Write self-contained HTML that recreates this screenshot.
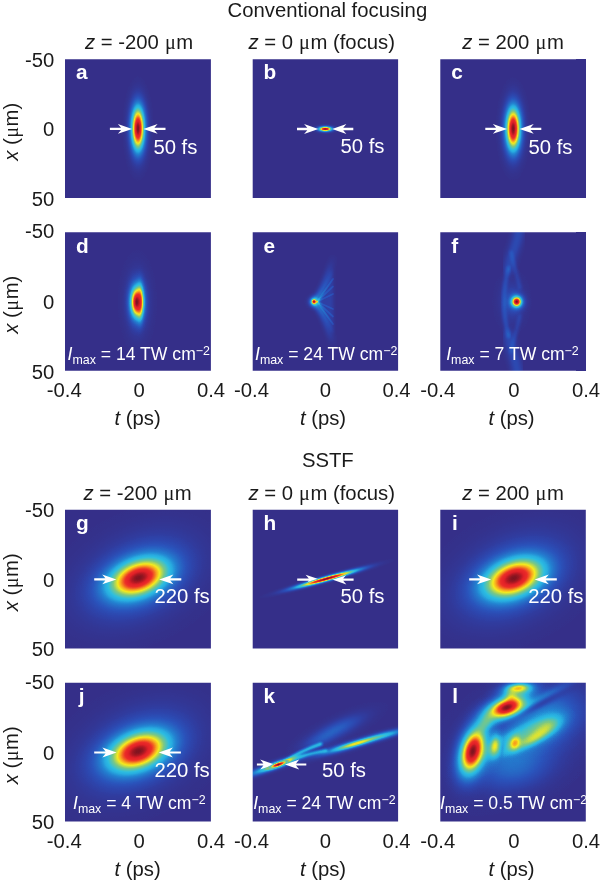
<!DOCTYPE html>
<html lang="en"><head><meta charset="utf-8"><title>Conventional focusing vs SSTF</title>
<style>html,body{margin:0;padding:0;background:#fff}svg{display:block}text{font-family:"Liberation Sans",sans-serif;font-size:20.3px;fill:#1a1a1a}.w{fill:#fff}.b{font-weight:bold;font-size:20.8px}.i{font-style:italic}.m{font-family:"Liberation Serif","DejaVu Serif",serif}.s{font-size:12.4px}.im{font-size:17.6px}</style></head><body>
<svg width="600" height="883" viewBox="0 0 600 883">
<defs><radialGradient id="g" cx="0.5" cy="0.5" r="0.5"><stop offset="0.0000" stop-color="#fff" stop-opacity="1.0000"/><stop offset="0.0357" stop-color="#fff" stop-opacity="0.9922"/><stop offset="0.0714" stop-color="#fff" stop-opacity="0.9692"/><stop offset="0.1071" stop-color="#fff" stop-opacity="0.9321"/><stop offset="0.1429" stop-color="#fff" stop-opacity="0.8825"/><stop offset="0.1786" stop-color="#fff" stop-opacity="0.8226"/><stop offset="0.2143" stop-color="#fff" stop-opacity="0.7548"/><stop offset="0.2500" stop-color="#fff" stop-opacity="0.6819"/><stop offset="0.2857" stop-color="#fff" stop-opacity="0.6065"/><stop offset="0.3214" stop-color="#fff" stop-opacity="0.5311"/><stop offset="0.3571" stop-color="#fff" stop-opacity="0.4578"/><stop offset="0.3929" stop-color="#fff" stop-opacity="0.3886"/><stop offset="0.4286" stop-color="#fff" stop-opacity="0.3247"/><stop offset="0.4643" stop-color="#fff" stop-opacity="0.2671"/><stop offset="0.5000" stop-color="#fff" stop-opacity="0.2163"/><stop offset="0.5357" stop-color="#fff" stop-opacity="0.1724"/><stop offset="0.5714" stop-color="#fff" stop-opacity="0.1353"/><stop offset="0.6071" stop-color="#fff" stop-opacity="0.1046"/><stop offset="0.6429" stop-color="#fff" stop-opacity="0.0796"/><stop offset="0.6786" stop-color="#fff" stop-opacity="0.0596"/><stop offset="0.7143" stop-color="#fff" stop-opacity="0.0439"/><stop offset="0.7500" stop-color="#fff" stop-opacity="0.0319"/><stop offset="0.7857" stop-color="#fff" stop-opacity="0.0228"/><stop offset="0.8214" stop-color="#fff" stop-opacity="0.0160"/><stop offset="0.8571" stop-color="#fff" stop-opacity="0.0111"/><stop offset="0.8929" stop-color="#fff" stop-opacity="0.0076"/><stop offset="0.9286" stop-color="#fff" stop-opacity="0.0051"/><stop offset="0.9643" stop-color="#fff" stop-opacity="0.0034"/><stop offset="1.0000" stop-color="#fff" stop-opacity="0.0000"/></radialGradient>
<radialGradient id="g4" cx="0.5" cy="0.5" r="0.5"><stop offset="0.0000" stop-color="#fff" stop-opacity="1.0000"/><stop offset="0.0357" stop-color="#fff" stop-opacity="1.0000"/><stop offset="0.0714" stop-color="#fff" stop-opacity="0.9998"/><stop offset="0.1071" stop-color="#fff" stop-opacity="0.9991"/><stop offset="0.1429" stop-color="#fff" stop-opacity="0.9973"/><stop offset="0.1786" stop-color="#fff" stop-opacity="0.9934"/><stop offset="0.2143" stop-color="#fff" stop-opacity="0.9863"/><stop offset="0.2500" stop-color="#fff" stop-opacity="0.9747"/><stop offset="0.2857" stop-color="#fff" stop-opacity="0.9573"/><stop offset="0.3214" stop-color="#fff" stop-opacity="0.9324"/><stop offset="0.3571" stop-color="#fff" stop-opacity="0.8989"/><stop offset="0.3929" stop-color="#fff" stop-opacity="0.8555"/><stop offset="0.4286" stop-color="#fff" stop-opacity="0.8016"/><stop offset="0.4643" stop-color="#fff" stop-opacity="0.7375"/><stop offset="0.5000" stop-color="#fff" stop-opacity="0.6639"/><stop offset="0.5357" stop-color="#fff" stop-opacity="0.5829"/><stop offset="0.5714" stop-color="#fff" stop-opacity="0.4972"/><stop offset="0.6071" stop-color="#fff" stop-opacity="0.4104"/><stop offset="0.6429" stop-color="#fff" stop-opacity="0.3265"/><stop offset="0.6786" stop-color="#fff" stop-opacity="0.2492"/><stop offset="0.7143" stop-color="#fff" stop-opacity="0.1816"/><stop offset="0.7500" stop-color="#fff" stop-opacity="0.1257"/><stop offset="0.7857" stop-color="#fff" stop-opacity="0.0823"/><stop offset="0.8214" stop-color="#fff" stop-opacity="0.0506"/><stop offset="0.8571" stop-color="#fff" stop-opacity="0.0291"/><stop offset="0.8929" stop-color="#fff" stop-opacity="0.0155"/><stop offset="0.9286" stop-color="#fff" stop-opacity="0.0077"/><stop offset="0.9643" stop-color="#fff" stop-opacity="0.0035"/><stop offset="1.0000" stop-color="#fff" stop-opacity="0.0000"/></radialGradient>
<radialGradient id="ov" cx="0.5" cy="0.5" r="0.5"><stop offset="0.0000" stop-color="#7d1420" stop-opacity="1.000"/><stop offset="0.0357" stop-color="#851520" stop-opacity="1.000"/><stop offset="0.0714" stop-color="#9e1722" stop-opacity="1.000"/><stop offset="0.1071" stop-color="#c31c25" stop-opacity="1.000"/><stop offset="0.1429" stop-color="#e42328" stop-opacity="1.000"/><stop offset="0.1786" stop-color="#ec2f28" stop-opacity="1.000"/><stop offset="0.2143" stop-color="#f36f22" stop-opacity="1.000"/><stop offset="0.2500" stop-color="#f7ba1e" stop-opacity="1.000"/><stop offset="0.2857" stop-color="#e3e62d" stop-opacity="1.000"/><stop offset="0.3214" stop-color="#9bd169" stop-opacity="1.000"/><stop offset="0.3571" stop-color="#62c5a2" stop-opacity="1.000"/><stop offset="0.3929" stop-color="#36bfd7" stop-opacity="0.834"/><stop offset="0.4286" stop-color="#29b0e0" stop-opacity="0.579"/><stop offset="0.4643" stop-color="#2593d7" stop-opacity="0.348"/><stop offset="0.5000" stop-color="#247acd" stop-opacity="0.145"/><stop offset="0.5357" stop-color="#2768c5" stop-opacity="0.000"/><stop offset="0.5714" stop-color="#2958be" stop-opacity="0.000"/><stop offset="0.6071" stop-color="#2b4eb5" stop-opacity="0.000"/><stop offset="0.6429" stop-color="#2d46ad" stop-opacity="0.000"/><stop offset="0.6786" stop-color="#2f40a5" stop-opacity="0.000"/><stop offset="0.7143" stop-color="#313c9e" stop-opacity="0.000"/><stop offset="0.7500" stop-color="#323999" stop-opacity="0.000"/><stop offset="0.7857" stop-color="#333695" stop-opacity="0.000"/><stop offset="0.8214" stop-color="#333491" stop-opacity="0.000"/><stop offset="0.8571" stop-color="#34338f" stop-opacity="0.000"/><stop offset="0.8929" stop-color="#34328e" stop-opacity="0.000"/><stop offset="0.9286" stop-color="#34318c" stop-opacity="0.000"/><stop offset="0.9643" stop-color="#35318c" stop-opacity="0.000"/><stop offset="1.0000" stop-color="#35318b" stop-opacity="0.000"/></radialGradient>
<radialGradient id="we" gradientUnits="userSpaceOnUse" cx="314" cy="301.7" r="44"><stop offset="0" stop-color="#fff" stop-opacity="0.30"/><stop offset="0.35" stop-color="#fff" stop-opacity="0.17"/><stop offset="0.75" stop-color="#fff" stop-opacity="0.09"/><stop offset="1" stop-color="#fff" stop-opacity="0.02"/></radialGradient>
<radialGradient id="gk" cx="0.5" cy="0.5" r="0.5"><stop offset="0.0000" stop-color="#000" stop-opacity="1.0000"/><stop offset="0.0357" stop-color="#000" stop-opacity="0.9922"/><stop offset="0.0714" stop-color="#000" stop-opacity="0.9692"/><stop offset="0.1071" stop-color="#000" stop-opacity="0.9321"/><stop offset="0.1429" stop-color="#000" stop-opacity="0.8825"/><stop offset="0.1786" stop-color="#000" stop-opacity="0.8226"/><stop offset="0.2143" stop-color="#000" stop-opacity="0.7548"/><stop offset="0.2500" stop-color="#000" stop-opacity="0.6819"/><stop offset="0.2857" stop-color="#000" stop-opacity="0.6065"/><stop offset="0.3214" stop-color="#000" stop-opacity="0.5311"/><stop offset="0.3571" stop-color="#000" stop-opacity="0.4578"/><stop offset="0.3929" stop-color="#000" stop-opacity="0.3886"/><stop offset="0.4286" stop-color="#000" stop-opacity="0.3247"/><stop offset="0.4643" stop-color="#000" stop-opacity="0.2671"/><stop offset="0.5000" stop-color="#000" stop-opacity="0.2163"/><stop offset="0.5357" stop-color="#000" stop-opacity="0.1724"/><stop offset="0.5714" stop-color="#000" stop-opacity="0.1353"/><stop offset="0.6071" stop-color="#000" stop-opacity="0.1046"/><stop offset="0.6429" stop-color="#000" stop-opacity="0.0796"/><stop offset="0.6786" stop-color="#000" stop-opacity="0.0596"/><stop offset="0.7143" stop-color="#000" stop-opacity="0.0439"/><stop offset="0.7500" stop-color="#000" stop-opacity="0.0319"/><stop offset="0.7857" stop-color="#000" stop-opacity="0.0228"/><stop offset="0.8214" stop-color="#000" stop-opacity="0.0160"/><stop offset="0.8571" stop-color="#000" stop-opacity="0.0111"/><stop offset="0.8929" stop-color="#000" stop-opacity="0.0076"/><stop offset="0.9286" stop-color="#000" stop-opacity="0.0051"/><stop offset="0.9643" stop-color="#000" stop-opacity="0.0034"/><stop offset="1.0000" stop-color="#000" stop-opacity="0.0000"/></radialGradient>
<filter id="jet" filterUnits="userSpaceOnUse" x="0" y="0" width="600" height="883" color-interpolation-filters="sRGB"><feComponentTransfer><feFuncR type="table" tableValues="0.208 0.202 0.196 0.189 0.183 0.178 0.174 0.169 0.165 0.161 0.157 0.154 0.150 0.146 0.142 0.139 0.140 0.144 0.149 0.153 0.158 0.162 0.167 0.172 0.176 0.216 0.255 0.294 0.333 0.373 0.412 0.451 0.490 0.549 0.608 0.667 0.725 0.784 0.843 0.902 0.961 0.963 0.966 0.968 0.971 0.971 0.965 0.959 0.953 0.947 0.941 0.936 0.930 0.924 0.915 0.906 0.897 0.888 0.859 0.802 0.744 0.685 0.620 0.555 0.490"/><feFuncG type="table" tableValues="0.188 0.205 0.221 0.238 0.255 0.273 0.292 0.310 0.329 0.355 0.381 0.406 0.432 0.457 0.483 0.508 0.540 0.575 0.610 0.645 0.677 0.694 0.711 0.728 0.745 0.750 0.755 0.760 0.765 0.770 0.775 0.779 0.784 0.801 0.819 0.836 0.853 0.870 0.887 0.904 0.922 0.868 0.815 0.762 0.709 0.654 0.588 0.522 0.457 0.391 0.332 0.277 0.221 0.174 0.164 0.153 0.142 0.132 0.122 0.113 0.105 0.097 0.091 0.085 0.078"/><feFuncB type="table" tableValues="0.541 0.570 0.598 0.626 0.653 0.677 0.697 0.717 0.737 0.749 0.761 0.772 0.784 0.796 0.808 0.819 0.831 0.844 0.856 0.868 0.879 0.880 0.880 0.881 0.882 0.836 0.789 0.743 0.696 0.650 0.603 0.556 0.510 0.461 0.412 0.363 0.314 0.265 0.216 0.167 0.118 0.118 0.118 0.118 0.118 0.119 0.123 0.127 0.132 0.136 0.141 0.147 0.152 0.157 0.157 0.157 0.157 0.157 0.154 0.148 0.142 0.137 0.133 0.129 0.125"/></feComponentTransfer></filter>
<filter id="b0_6" x="-50%" y="-50%" width="200%" height="200%" color-interpolation-filters="sRGB"><feGaussianBlur stdDeviation="0.6"/></filter>
<filter id="b1" x="-50%" y="-50%" width="200%" height="200%" color-interpolation-filters="sRGB"><feGaussianBlur stdDeviation="1"/></filter>
<filter id="b1_5" x="-50%" y="-50%" width="200%" height="200%" color-interpolation-filters="sRGB"><feGaussianBlur stdDeviation="1.5"/></filter>
<filter id="b2" x="-50%" y="-50%" width="200%" height="200%" color-interpolation-filters="sRGB"><feGaussianBlur stdDeviation="2"/></filter>
<filter id="b3" x="-50%" y="-50%" width="200%" height="200%" color-interpolation-filters="sRGB"><feGaussianBlur stdDeviation="3"/></filter>
<filter id="b4" x="-50%" y="-50%" width="200%" height="200%" color-interpolation-filters="sRGB"><feGaussianBlur stdDeviation="4"/></filter>
<filter id="b6" x="-50%" y="-50%" width="200%" height="200%" color-interpolation-filters="sRGB"><feGaussianBlur stdDeviation="6"/></filter>
<clipPath id="c00"><rect x="65.0" y="59.3" width="145.9" height="138.6"/></clipPath>
<clipPath id="c01"><rect x="252.7" y="59.3" width="145.4" height="138.6"/></clipPath>
<clipPath id="c02"><rect x="440.3" y="59.3" width="145.5" height="138.6"/></clipPath>
<clipPath id="c10"><rect x="65.0" y="232.2" width="145.9" height="138.6"/></clipPath>
<clipPath id="c11"><rect x="252.7" y="232.2" width="145.4" height="138.6"/></clipPath>
<clipPath id="c12"><rect x="440.3" y="232.2" width="145.5" height="138.6"/></clipPath>
<clipPath id="c20"><rect x="65.0" y="509.8" width="145.9" height="138.6"/></clipPath>
<clipPath id="c21"><rect x="252.7" y="509.8" width="145.4" height="138.6"/></clipPath>
<clipPath id="c22"><rect x="440.3" y="509.8" width="145.5" height="138.6"/></clipPath>
<clipPath id="c30"><rect x="65.0" y="682.8" width="145.9" height="138.6"/></clipPath>
<clipPath id="c31"><rect x="252.7" y="682.8" width="145.4" height="138.6"/></clipPath>
<clipPath id="c32"><rect x="440.3" y="682.8" width="145.5" height="138.6"/></clipPath></defs>
<rect width="600" height="883" fill="#fff"/>
<g filter="url(#jet)">
<g clip-path="url(#c00)"><rect x="64.0" y="58.3" width="147.5" height="140.6" fill="#000"/><ellipse cx="0" cy="0" rx="16.10" ry="53.20" fill="url(#g)" opacity="1.000" transform="translate(138.00 128.50) rotate(0.0)"/></g>
<g clip-path="url(#c01)"><rect x="251.7" y="58.3" width="147.5" height="140.6" fill="#000"/><ellipse cx="0" cy="0" rx="15.40" ry="5.60" fill="url(#g)" opacity="1.000" transform="translate(325.30 129.00) rotate(0.0)"/></g>
<g clip-path="url(#c02)"><rect x="439.3" y="58.3" width="147.5" height="140.6" fill="#000"/><ellipse cx="0" cy="0" rx="17.85" ry="52.50" fill="url(#g)" opacity="1.000" transform="translate(513.20 128.80) rotate(0.0)"/></g>
<g clip-path="url(#c10)"><rect x="64.0" y="231.2" width="147.5" height="140.6" fill="#000"/><ellipse cx="0" cy="0" rx="22.75" ry="59.50" fill="url(#g)" opacity="0.200" transform="translate(137.30 302.00) rotate(0.0)"/><ellipse cx="0" cy="0" rx="14.00" ry="34.30" fill="url(#g)" opacity="1.000" transform="translate(136.80 302.00) rotate(0.0)"/><ellipse cx="0" cy="0" rx="7.35" ry="38.50" fill="url(#g)" opacity="0.600" transform="translate(140.20 302.00) rotate(0.0)"/></g>
<g clip-path="url(#c11)"><rect x="251.7" y="231.2" width="147.5" height="140.6" fill="#000"/><path d="M316 301.5 L333 268 L333.5 335 Z" fill="#fff" fill-opacity="0.060" filter="url(#b1_5)"/><path d="M315 300 Q324 291 332.5 259" fill="none" stroke="url(#we)" stroke-width="4.60" stroke-linecap="round" filter="url(#b2)"/><path d="M315 303.5 Q324 312 332.5 343" fill="none" stroke="url(#we)" stroke-width="4.60" stroke-linecap="round" filter="url(#b2)"/><path d="M317 301.7 L333 279.0" fill="none" stroke="#fff" stroke-width="1.80" stroke-opacity="0.075" stroke-linecap="round" filter="url(#b0_6)"/><path d="M317 301.7 L333 286.5" fill="none" stroke="#fff" stroke-width="1.80" stroke-opacity="0.075" stroke-linecap="round" filter="url(#b0_6)"/><path d="M317 301.7 L333 294.0" fill="none" stroke="#fff" stroke-width="1.80" stroke-opacity="0.075" stroke-linecap="round" filter="url(#b0_6)"/><path d="M317 301.7 L333 309.0" fill="none" stroke="#fff" stroke-width="1.80" stroke-opacity="0.075" stroke-linecap="round" filter="url(#b0_6)"/><path d="M317 301.7 L333 316.5" fill="none" stroke="#fff" stroke-width="1.80" stroke-opacity="0.075" stroke-linecap="round" filter="url(#b0_6)"/><path d="M317 301.7 L333 324.0" fill="none" stroke="#fff" stroke-width="1.80" stroke-opacity="0.075" stroke-linecap="round" filter="url(#b0_6)"/><ellipse cx="0" cy="0" rx="10.50" ry="10.50" fill="url(#g)" opacity="0.400" transform="translate(314.00 301.70) rotate(0.0)"/><ellipse cx="0" cy="0" rx="4.90" ry="4.90" fill="url(#g)" opacity="0.950" transform="translate(314.00 301.70) rotate(0.0)"/></g>
<g clip-path="url(#c12)"><rect x="439.3" y="231.2" width="147.5" height="140.6" fill="#000"/><path d="M519.5 226 Q518 240 513 252 Q509.5 262 508.5 270" fill="none" stroke="#fff" stroke-width="7.50" stroke-opacity="0.120" stroke-linecap="round" filter="url(#b3)"/><path d="M508.5 268 Q499.5 301.5 508.5 336" fill="none" stroke="#fff" stroke-width="4.00" stroke-opacity="0.100" stroke-linecap="round" filter="url(#b1_5)"/><path d="M508.5 334 Q510 346 514 357 Q517 366 518 378" fill="none" stroke="#fff" stroke-width="7.50" stroke-opacity="0.120" stroke-linecap="round" filter="url(#b3)"/><path d="M511 252 L520 288" fill="none" stroke="#fff" stroke-width="3.00" stroke-opacity="0.080" stroke-linecap="round" filter="url(#b1_5)"/><path d="M511 352 L520 316" fill="none" stroke="#fff" stroke-width="3.00" stroke-opacity="0.080" stroke-linecap="round" filter="url(#b1_5)"/><ellipse cx="0" cy="0" rx="24.50" ry="42.00" fill="url(#g)" opacity="0.100" transform="translate(512.00 301.70) rotate(0.0)"/><ellipse cx="0" cy="0" rx="15.40" ry="16.10" fill="url(#g)" opacity="0.420" transform="translate(516.70 301.70) rotate(0.0)"/><ellipse cx="0" cy="0" rx="9.45" ry="9.80" fill="url(#g)" opacity="1.000" transform="translate(516.70 301.70) rotate(0.0)"/></g>
<g clip-path="url(#c20)"><rect x="64.0" y="508.8" width="147.5" height="140.6" fill="#000"/><ellipse cx="0" cy="0" rx="119.00" ry="75.25" fill="url(#g)" opacity="0.250" transform="translate(138.60 578.00) rotate(-26.0)"/><ellipse cx="0" cy="0" rx="67.55" ry="39.20" fill="url(#g)" opacity="1.000" transform="translate(138.60 578.00) rotate(-20.0)"/></g>
<g clip-path="url(#c21)"><rect x="251.7" y="508.8" width="147.5" height="140.6" fill="#000"/><ellipse cx="0" cy="0" rx="71.75" ry="5.60" fill="url(#g)" opacity="1.000" transform="translate(326.50 578.80) rotate(-15.7)"/></g>
<g clip-path="url(#c22)"><rect x="439.3" y="508.8" width="147.5" height="140.6" fill="#000"/><ellipse cx="0" cy="0" rx="119.00" ry="75.25" fill="url(#g)" opacity="0.250" transform="translate(513.80 578.30) rotate(-26.0)"/><ellipse cx="0" cy="0" rx="67.55" ry="39.20" fill="url(#g)" opacity="1.000" transform="translate(513.80 578.30) rotate(-20.0)"/></g>
<g clip-path="url(#c30)"><rect x="64.0" y="681.8" width="147.5" height="140.6" fill="#000"/><ellipse cx="0" cy="0" rx="119.00" ry="75.25" fill="url(#g)" opacity="0.250" transform="translate(138.30 751.20) rotate(-26.0)"/><ellipse cx="0" cy="0" rx="67.55" ry="39.20" fill="url(#g)" opacity="1.000" transform="translate(138.30 751.20) rotate(-20.0)"/></g>
<g clip-path="url(#c31)"><rect x="251.7" y="681.8" width="147.5" height="140.6" fill="#000"/><ellipse cx="0" cy="0" rx="66.50" ry="18.20" fill="url(#g)" opacity="0.150" transform="translate(337.00 729.00) rotate(-25.0)"/><ellipse cx="0" cy="0" rx="42.00" ry="14.00" fill="url(#g)" opacity="0.070" transform="translate(318.00 741.00) rotate(-22.0)"/><ellipse cx="0" cy="0" rx="63.00" ry="8.40" fill="url(#g)" opacity="0.450" transform="translate(274.00 766.00) rotate(-19.5)"/><path d="M285 761.5 Q299 751.5 321 744" fill="none" stroke="#fff" stroke-width="3.00" stroke-opacity="0.360" stroke-linecap="round" filter="url(#b1)"/><path d="M290 760.5 Q306 754 326 750.5" fill="none" stroke="#fff" stroke-width="2.80" stroke-opacity="0.300" stroke-linecap="round" filter="url(#b1)"/><ellipse cx="0" cy="0" rx="49.00" ry="7.70" fill="url(#g)" opacity="0.270" transform="translate(386.00 735.00) rotate(-15.0)"/><ellipse cx="0" cy="0" rx="84.00" ry="9.10" fill="url(#g)" opacity="0.300" transform="translate(352.00 744.80) rotate(-16.5)"/><ellipse cx="0" cy="0" rx="52.50" ry="5.95" fill="url(#g)" opacity="0.480" transform="translate(357.00 743.30) rotate(-16.5)"/><ellipse cx="0" cy="0" rx="23.80" ry="5.60" fill="url(#g)" opacity="1.000" transform="translate(278.40 764.50) rotate(-19.5)"/></g>
<g clip-path="url(#c32)"><rect x="439.3" y="681.8" width="147.5" height="140.6" fill="#000"/><ellipse cx="0" cy="0" rx="140.00" ry="77.00" fill="url(#g)" opacity="0.160" transform="translate(526.00 734.00) rotate(-30.0)"/><ellipse cx="0" cy="0" rx="70.00" ry="45.50" fill="url(#g)" opacity="0.170" transform="translate(547.00 719.00) rotate(-30.0)"/><ellipse cx="0" cy="0" rx="84.00" ry="49.00" fill="url(#g)" opacity="0.130" transform="translate(515.00 768.00) rotate(-10.0)"/><ellipse cx="0" cy="0" rx="64.00" ry="18.40" fill="url(#g4)" opacity="0.220" transform="translate(522.00 737.00) rotate(-25.0)"/><ellipse cx="0" cy="0" rx="108.50" ry="26.25" fill="url(#g)" opacity="0.080" transform="translate(523.00 741.50) rotate(-24.0)"/><ellipse cx="0" cy="0" rx="35.00" ry="19.25" fill="url(#g)" opacity="0.220" transform="translate(548.00 727.00) rotate(-30.0)"/><ellipse cx="0" cy="0" rx="21.00" ry="31.50" fill="url(#g)" opacity="0.300" transform="translate(486.00 722.00) rotate(30.0)"/><ellipse cx="0" cy="0" rx="42.00" ry="19.25" fill="url(#g)" opacity="0.340" transform="translate(518.00 690.00) rotate(-8.0)"/><ellipse cx="0" cy="0" rx="14.00" ry="17.50" fill="url(#g)" opacity="0.250" transform="translate(511.00 697.00) rotate(0.0)"/><ellipse cx="0" cy="0" rx="77.00" ry="11.20" fill="url(#g)" opacity="0.120" transform="translate(543.00 697.50) rotate(-27.6)"/><ellipse cx="0" cy="0" rx="105.00" ry="9.10" fill="url(#gk)" opacity="0.800" transform="translate(530.00 709.50) rotate(-27.6)"/><ellipse cx="0" cy="0" rx="5.60" ry="21.00" fill="url(#gk)" opacity="0.250" transform="translate(502.30 748.00) rotate(8.0)"/><path d="M490 757 L490 790" fill="none" stroke="#fff" stroke-width="1.60" stroke-opacity="0.200" stroke-linecap="butt" filter="url(#b0_6)"/><path d="M495 757 L495 790" fill="none" stroke="#fff" stroke-width="1.60" stroke-opacity="0.200" stroke-linecap="butt" filter="url(#b0_6)"/><path d="M500 757 L500 790" fill="none" stroke="#fff" stroke-width="1.60" stroke-opacity="0.200" stroke-linecap="butt" filter="url(#b0_6)"/><path d="M505 757 L505 790" fill="none" stroke="#fff" stroke-width="1.60" stroke-opacity="0.200" stroke-linecap="butt" filter="url(#b0_6)"/><path d="M510 757 L510 790" fill="none" stroke="#fff" stroke-width="1.60" stroke-opacity="0.200" stroke-linecap="butt" filter="url(#b0_6)"/><path d="M515 757 L515 790" fill="none" stroke="#fff" stroke-width="1.60" stroke-opacity="0.200" stroke-linecap="butt" filter="url(#b0_6)"/><path d="M520 757 L520 790" fill="none" stroke="#fff" stroke-width="1.60" stroke-opacity="0.200" stroke-linecap="butt" filter="url(#b0_6)"/><path d="M525 757 L525 790" fill="none" stroke="#fff" stroke-width="1.60" stroke-opacity="0.200" stroke-linecap="butt" filter="url(#b0_6)"/><path d="M530 757 L530 790" fill="none" stroke="#fff" stroke-width="1.60" stroke-opacity="0.200" stroke-linecap="butt" filter="url(#b0_6)"/><path d="M535 757 L535 790" fill="none" stroke="#fff" stroke-width="1.60" stroke-opacity="0.200" stroke-linecap="butt" filter="url(#b0_6)"/><path d="M540 757 L540 790" fill="none" stroke="#fff" stroke-width="1.60" stroke-opacity="0.200" stroke-linecap="butt" filter="url(#b0_6)"/><path d="M545 757 L545 790" fill="none" stroke="#fff" stroke-width="1.60" stroke-opacity="0.200" stroke-linecap="butt" filter="url(#b0_6)"/><ellipse cx="0" cy="0" rx="26.25" ry="10.15" fill="url(#g)" opacity="0.500" transform="translate(518.60 688.00) rotate(-4.0)"/><ellipse cx="0" cy="0" rx="11.90" ry="26.25" fill="url(#g)" opacity="0.450" transform="translate(494.80 745.60) rotate(8.0)"/><ellipse cx="0" cy="0" rx="12.60" ry="17.50" fill="url(#g)" opacity="0.500" transform="translate(514.80 743.00) rotate(20.0)"/><ellipse cx="0" cy="0" rx="40.25" ry="13.30" fill="url(#g)" opacity="0.270" transform="translate(533.50 738.50) rotate(-29.0)"/><ellipse cx="0" cy="0" rx="47.25" ry="23.80" fill="url(#g)" opacity="1.000" transform="translate(506.80 707.50) rotate(-20.0)"/><ellipse cx="0" cy="0" rx="29.05" ry="56.00" fill="url(#g)" opacity="1.000" transform="translate(472.80 751.10) rotate(15.0)"/></g>
</g>
<polygon points="132.1,128.9 117.9,124.0 121.1,127.8 109.9,127.8 109.9,130.1 121.1,130.1 117.9,133.8" fill="#fff"/>
<polygon points="143.4,128.9 157.6,124.0 154.4,127.8 165.5,127.8 165.5,130.1 154.4,130.1 157.6,133.8" fill="#fff"/>
<polygon points="318.3,129.0 304.1,124.1 307.3,127.8 297.0,127.8 297.0,130.2 307.3,130.2 304.1,133.9" fill="#fff"/>
<polygon points="332.2,129.0 346.4,124.1 343.2,127.8 353.3,127.8 353.3,130.2 343.2,130.2 346.4,133.9" fill="#fff"/>
<polygon points="507.1,128.9 492.9,124.0 496.1,127.8 485.3,127.8 485.3,130.1 496.1,130.1 492.9,133.8" fill="#fff"/>
<polygon points="519.5,128.9 533.7,124.0 530.5,127.8 541.3,127.8 541.3,130.1 530.5,130.1 533.7,133.8" fill="#fff"/>
<polygon points="116.4,579.4 102.2,574.5 105.4,578.2 94.2,578.2 94.2,580.5 105.4,580.5 102.2,584.3" fill="#fff"/>
<polygon points="159.2,579.4 173.4,574.5 170.2,578.2 181.3,578.2 181.3,580.5 170.2,580.5 173.4,584.3" fill="#fff"/>
<polygon points="319.8,579.6 305.6,574.7 308.8,578.5 297.2,578.5 297.2,580.8 308.8,580.8 305.6,584.5" fill="#fff"/>
<polygon points="332.2,579.6 346.4,574.7 343.2,578.5 353.6,578.5 353.6,580.8 343.2,580.8 346.4,584.5" fill="#fff"/>
<polygon points="491.2,579.4 477.0,574.5 480.2,578.2 469.2,578.2 469.2,580.5 480.2,580.5 477.0,584.3" fill="#fff"/>
<polygon points="534.6,579.4 548.8,574.5 545.6,578.2 556.8,578.2 556.8,580.5 545.6,580.5 548.8,584.3" fill="#fff"/>
<polygon points="116.6,752.5 102.4,747.6 105.6,751.4 94.2,751.4 94.2,753.6 105.6,753.6 102.4,757.4" fill="#fff"/>
<polygon points="158.7,752.5 172.9,747.6 169.7,751.4 180.9,751.4 180.9,753.6 169.7,753.6 172.9,757.4" fill="#fff"/>
<polygon points="274.4,764.5 260.2,759.6 263.4,763.4 256.9,763.4 256.9,765.6 263.4,765.6 260.2,769.4" fill="#fff"/>
<polygon points="285.0,764.5 299.2,759.6 296.0,763.4 306.3,763.4 306.3,765.6 296.0,765.6 299.2,769.4" fill="#fff"/>
<ellipse cx="0" cy="0" rx="71.75" ry="5.60" fill="url(#ov)" transform="translate(326.50 578.80) rotate(-15.7)"/>
<ellipse cx="0" cy="0" rx="23.80" ry="5.60" fill="url(#ov)" transform="translate(278.40 764.50) rotate(-19.5)"/>
<text x="227.6" y="17.3">Conventional focusing</text>
<text x="301.9" y="467.0">SSTF</text>
<text x="85.0" y="49.3"><tspan class="i">z</tspan> = -200 <tspan class="m" dx="0.5">μ</tspan><tspan dx="0.5">m</tspan></text>
<text x="248.4" y="49.3"><tspan class="i">z</tspan> = 0 <tspan class="m" dx="0.5">μ</tspan><tspan dx="0.5">m</tspan> (focus)</text>
<text x="462.3" y="49.3"><tspan class="i">z</tspan> = 200 <tspan class="m" dx="0.5">μ</tspan><tspan dx="0.5">m</tspan></text>
<text x="83.4" y="499.8"><tspan class="i">z</tspan> = -200 <tspan class="m" dx="0.5">μ</tspan><tspan dx="0.5">m</tspan></text>
<text x="248.4" y="499.8"><tspan class="i">z</tspan> = 0 <tspan class="m" dx="0.5">μ</tspan><tspan dx="0.5">m</tspan> (focus)</text>
<text x="462.3" y="499.8"><tspan class="i">z</tspan> = 200 <tspan class="m" dx="0.5">μ</tspan><tspan dx="0.5">m</tspan></text>
<text x="54.3" y="67.1" text-anchor="end">-50</text>
<text x="54.3" y="136.0" text-anchor="end">0</text>
<text x="54.3" y="205.9" text-anchor="end">50</text>
<text transform="translate(17.5 160.8) rotate(-90)"><tspan class="i">x</tspan> (<tspan class="m" dx="0.5">μ</tspan><tspan dx="0.5">m</tspan>)</text>
<text x="54.3" y="237.7" text-anchor="end">-50</text>
<text x="54.3" y="308.9" text-anchor="end">0</text>
<text x="54.3" y="378.8" text-anchor="end">50</text>
<text transform="translate(17.5 333.7) rotate(-90)"><tspan class="i">x</tspan> (<tspan class="m" dx="0.5">μ</tspan><tspan dx="0.5">m</tspan>)</text>
<text x="54.3" y="517.3" text-anchor="end">-50</text>
<text x="54.3" y="586.5" text-anchor="end">0</text>
<text x="54.3" y="656.4" text-anchor="end">50</text>
<text transform="translate(17.5 611.3) rotate(-90)"><tspan class="i">x</tspan> (<tspan class="m" dx="0.5">μ</tspan><tspan dx="0.5">m</tspan>)</text>
<text x="54.3" y="688.6" text-anchor="end">-50</text>
<text x="54.3" y="759.5" text-anchor="end">0</text>
<text x="54.3" y="829.4" text-anchor="end">50</text>
<text transform="translate(17.5 784.3) rotate(-90)"><tspan class="i">x</tspan> (<tspan class="m" dx="0.5">μ</tspan><tspan dx="0.5">m</tspan>)</text>
<text x="64.2" y="397.3" text-anchor="middle">-0.4</text>
<text x="139.2" y="397.3" text-anchor="middle">0</text>
<text x="211.0" y="397.3" text-anchor="middle">0.4</text>
<text x="137.6" y="425.4" text-anchor="middle"><tspan class="i">t</tspan> (ps)</text>
<text x="251.5" y="397.3" text-anchor="middle">-0.4</text>
<text x="325.3" y="397.3" text-anchor="middle">0</text>
<text x="396.5" y="397.3" text-anchor="middle">0.4</text>
<text x="323.0" y="425.4" text-anchor="middle"><tspan class="i">t</tspan> (ps)</text>
<text x="437.8" y="397.3" text-anchor="middle">-0.4</text>
<text x="513.9" y="397.3" text-anchor="middle">0</text>
<text x="586.0" y="397.3" text-anchor="middle">0.4</text>
<text x="511.5" y="425.4" text-anchor="middle"><tspan class="i">t</tspan> (ps)</text>
<text x="64.2" y="847.9" text-anchor="middle">-0.4</text>
<text x="139.2" y="847.9" text-anchor="middle">0</text>
<text x="211.0" y="847.9" text-anchor="middle">0.4</text>
<text x="137.6" y="876.0" text-anchor="middle"><tspan class="i">t</tspan> (ps)</text>
<text x="251.5" y="847.9" text-anchor="middle">-0.4</text>
<text x="325.3" y="847.9" text-anchor="middle">0</text>
<text x="396.5" y="847.9" text-anchor="middle">0.4</text>
<text x="323.0" y="876.0" text-anchor="middle"><tspan class="i">t</tspan> (ps)</text>
<text x="437.8" y="847.9" text-anchor="middle">-0.4</text>
<text x="513.9" y="847.9" text-anchor="middle">0</text>
<text x="586.0" y="847.9" text-anchor="middle">0.4</text>
<text x="511.5" y="876.0" text-anchor="middle"><tspan class="i">t</tspan> (ps)</text>
<text x="75.9" y="79.3" class="w b">a</text>
<text x="263.6" y="79.3" class="w b">b</text>
<text x="451.2" y="79.3" class="w b">c</text>
<text x="75.9" y="252.5" class="w b">d</text>
<text x="263.6" y="252.5" class="w b">e</text>
<text x="451.2" y="252.5" class="w b">f</text>
<text x="75.9" y="530.4" class="w b">g</text>
<text x="263.6" y="530.4" class="w b">h</text>
<text x="452.1" y="530.4" class="w b">i</text>
<text x="78.7" y="703.0" class="w b">j</text>
<text x="263.6" y="703.0" class="w b">k</text>
<text x="452.3" y="703.0" class="w b">l</text>
<text x="153.4" y="154.2" class="w">50 fs</text>
<text x="340.5" y="153.1" class="w">50 fs</text>
<text x="528.5" y="154.0" class="w">50 fs</text>
<text x="154.5" y="603.4" class="w">220 fs</text>
<text x="340.5" y="603.4" class="w">50 fs</text>
<text x="528.2" y="603.4" class="w">220 fs</text>
<text x="154.5" y="776.8" class="w">220 fs</text>
<text x="322.0" y="777.0" class="w">50 fs</text>
<g clip-path="url(#c10)"><text x="67.6" y="359.7" class="w im"><tspan class="i">I</tspan><tspan class="s" dy="4.2">max</tspan><tspan dy="-4.2"> = 14 TW cm</tspan><tspan class="s" dy="-4.6">−2</tspan></text></g>
<g clip-path="url(#c11)"><text x="255.0" y="359.7" class="w im"><tspan class="i">I</tspan><tspan class="s" dy="4.2">max</tspan><tspan dy="-4.2"> = 24 TW cm</tspan><tspan class="s" dy="-4.6">−2</tspan></text></g>
<g clip-path="url(#c12)"><text x="446.2" y="359.7" class="w im"><tspan class="i">I</tspan><tspan class="s" dy="4.2">max</tspan><tspan dy="-4.2"> = 7 TW cm</tspan><tspan class="s" dy="-4.6">−2</tspan></text></g>
<g clip-path="url(#c30)"><text x="73.0" y="808.7" class="w im"><tspan class="i">I</tspan><tspan class="s" dy="4.2">max</tspan><tspan dy="-4.2"> = 4 TW cm</tspan><tspan class="s" dy="-4.6">−2</tspan></text></g>
<g clip-path="url(#c31)"><text x="253.2" y="808.7" class="w im"><tspan class="i">I</tspan><tspan class="s" dy="4.2">max</tspan><tspan dy="-4.2"> = 24 TW cm</tspan><tspan class="s" dy="-4.6">−2</tspan></text></g>
<g clip-path="url(#c32)"><text x="440.0" y="808.7" class="w im"><tspan class="i">I</tspan><tspan class="s" dy="4.2">max</tspan><tspan dy="-4.2"> = 0.5 TW cm</tspan><tspan class="s" dy="-4.6">−2</tspan></text></g>
</svg></body></html>
